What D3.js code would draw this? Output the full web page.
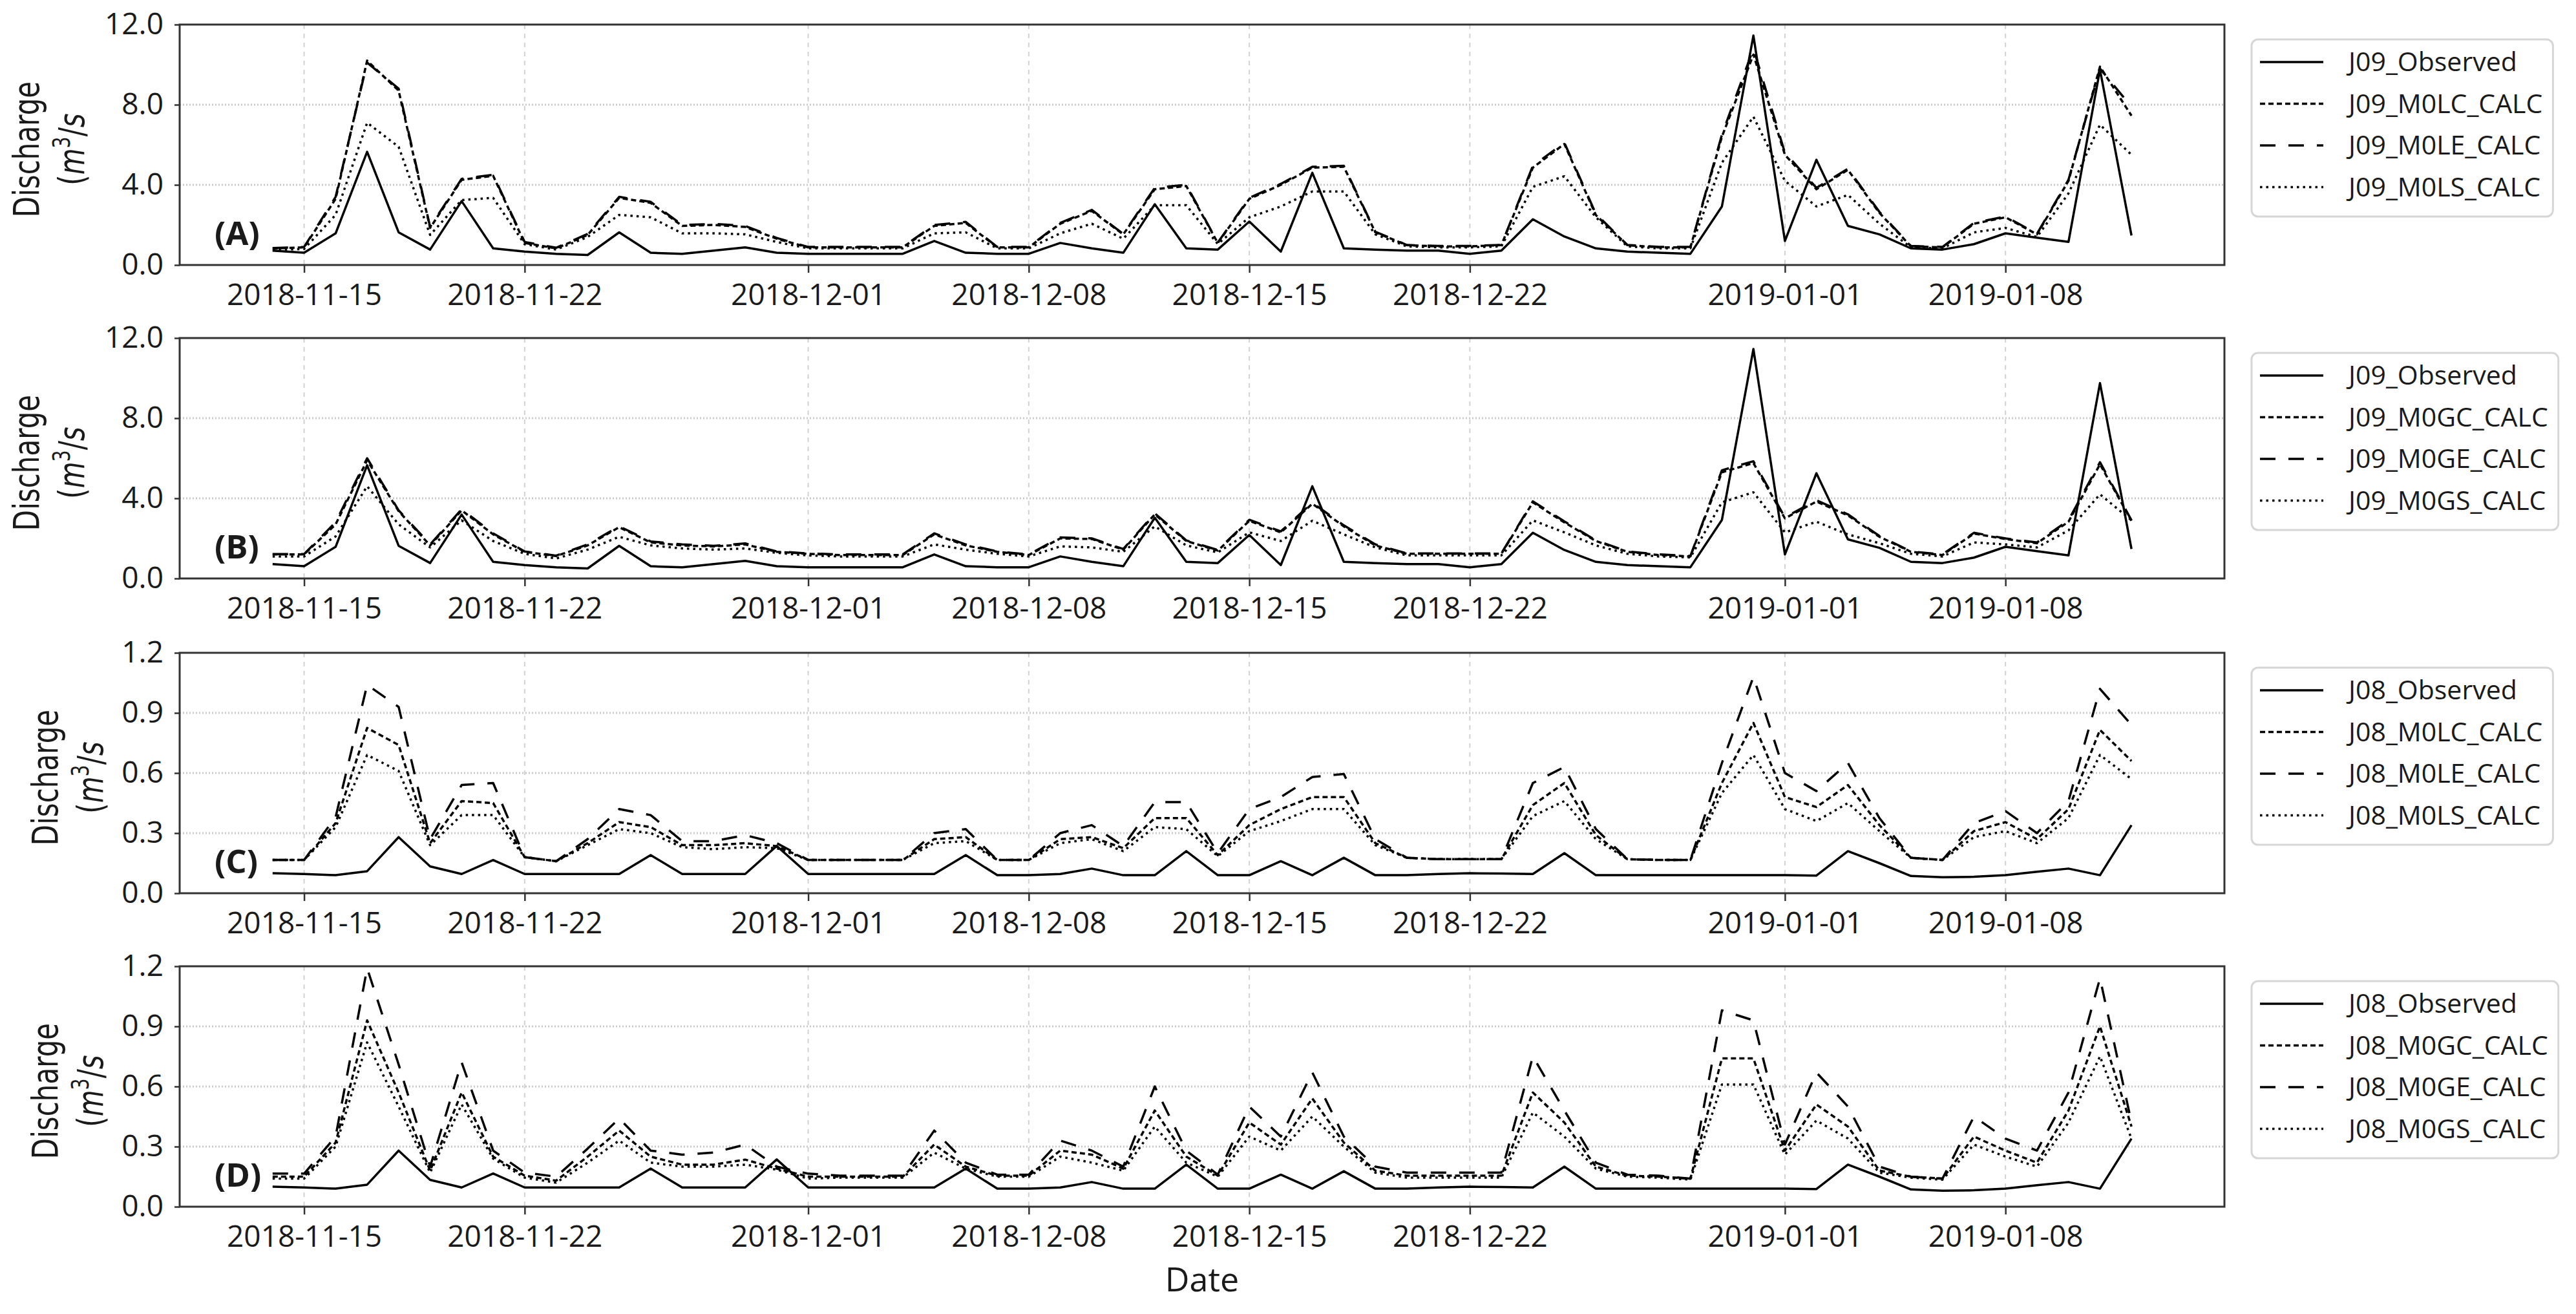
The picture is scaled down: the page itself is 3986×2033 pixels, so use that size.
<!DOCTYPE html>
<html>
<head>
<meta charset="utf-8">
<script src="https://cdn.jsdelivr.net/npm/d3@7/dist/d3.min.js"></script>
<style>
  body { margin: 0; background: #fff; }
</style>
</head>
<body>
<div id="chart"></div>
<script>
// ---- data ----
// one value per day, 2018-11-14 .. 2019-01-12
var startDate = "2018-11-14", endDate = "2019-01-12";
var tickDates = ["2018-11-15", "2018-11-22", "2018-12-01", "2018-12-08", "2018-12-15", "2018-12-22", "2019-01-01", "2019-01-08"];
var ticksJ09 = [0, 4, 8, 12];
var ticksJ08 = [0, 0.3, 0.6, 0.9, 1.2];

var J09_Observed = [0.72, 0.61, 1.58, 5.65, 1.63, 0.77, 3.19, 0.83, 0.67, 0.56, 0.5, 1.63, 0.61, 0.56, 0.72, 0.88, 0.61, 0.56, 0.56, 0.56,
  0.56, 1.2, 0.61, 0.56, 0.56, 1.1, 0.83, 0.61, 3.03, 0.83, 0.77, 2.17, 0.67, 4.6, 0.83, 0.77, 0.72, 0.72, 0.56, 0.72,
  2.28, 1.42, 0.83, 0.67, 0.61, 0.56, 2.92, 11.45, 1.2, 5.25, 1.95, 1.53, 0.83, 0.77, 1.04, 1.58, 1.36, 1.15, 9.75, 1.47];
var J09_M0LC = [0.82, 0.88, 3.3, 10.2, 8.7, 1.85, 4.25, 4.45, 1.1, 0.83, 1.5, 3.35, 3.1, 1.95, 2.0, 1.9, 1.31, 0.88, 0.88, 0.88,
  0.88, 1.95, 2.1, 0.88, 0.88, 2.06, 2.7, 1.53, 3.78, 3.94, 1.1, 3.3, 4.0, 4.86, 4.9, 1.63, 0.99, 0.93, 0.93, 0.99,
  4.86, 6.04, 2.49, 0.99, 0.88, 0.88, 6.4, 10.5, 5.5, 3.78, 4.75, 2.6, 0.93, 0.88, 2.06, 2.38, 1.53, 4.2, 9.9, 7.45];
var J09_M0LE = [0.85, 0.9, 3.4, 10.1, 8.8, 1.9, 4.3, 4.5, 1.15, 0.86, 1.55, 3.4, 3.15, 2.0, 2.05, 1.95, 1.35, 0.9, 0.9, 0.9,
  0.9, 2.0, 2.15, 0.9, 0.9, 2.1, 2.75, 1.55, 3.85, 4.0, 1.12, 3.35, 4.05, 4.9, 4.95, 1.66, 1.0, 0.95, 0.95, 1.0,
  4.95, 6.1, 2.55, 1.0, 0.9, 0.9, 6.5, 10.8, 5.6, 3.85, 4.8, 2.65, 0.95, 0.9, 2.1, 2.42, 1.56, 4.25, 9.8, 7.9];
var J09_M0LS = [0.75, 0.8, 2.5, 7.1, 5.9, 1.5, 3.24, 3.35, 1.04, 0.77, 1.4, 2.5, 2.38, 1.58, 1.58, 1.53, 1.15, 0.83, 0.83, 0.83,
  0.83, 1.58, 1.63, 0.83, 0.83, 1.58, 2.06, 1.31, 2.98, 2.98, 1.05, 2.38, 2.92, 3.67, 3.67, 1.53, 0.93, 0.88, 0.88, 0.93,
  3.9, 4.43, 2.38, 0.93, 0.83, 0.83, 5.1, 7.4, 4.2, 2.92, 3.5, 2.06, 0.88, 0.83, 1.63, 1.85, 1.4, 3.57, 7.0, 5.5];

var J09_M0GC = [1.2, 1.2, 2.7, 5.9, 3.36, 1.65, 3.4, 2.2, 1.33, 1.12, 1.65, 2.56, 1.8, 1.65, 1.6, 1.7, 1.33, 1.23, 1.17, 1.17,
  1.17, 2.2, 1.65, 1.33, 1.17, 2.0, 1.97, 1.44, 3.2, 1.87, 1.39, 2.88, 2.3, 3.73, 2.6, 1.65, 1.23, 1.23, 1.23, 1.23,
  3.8, 2.8, 1.87, 1.33, 1.17, 1.1, 5.3, 5.76, 3.0, 3.84, 3.15, 2.08, 1.33, 1.17, 2.24, 1.97, 1.76, 2.83, 5.7, 2.88];
var J09_M0GE = [1.22, 1.22, 2.8, 6.0, 3.4, 1.7, 3.45, 2.25, 1.35, 1.14, 1.7, 2.6, 1.85, 1.7, 1.63, 1.75, 1.35, 1.25, 1.2, 1.2,
  1.2, 2.25, 1.7, 1.35, 1.2, 2.05, 2.0, 1.47, 3.25, 1.9, 1.42, 2.93, 2.35, 3.78, 2.65, 1.7, 1.25, 1.25, 1.25, 1.25,
  3.85, 2.85, 1.9, 1.35, 1.2, 1.12, 5.4, 5.85, 3.05, 3.9, 3.2, 2.12, 1.35, 1.2, 2.28, 2.0, 1.8, 2.9, 5.8, 2.9];
var J09_M0GS = [1.1, 1.1, 2.1, 4.6, 2.7, 1.55, 2.9, 1.87, 1.23, 1.0, 1.44, 2.08, 1.65, 1.5, 1.44, 1.5, 1.28, 1.15, 1.1, 1.1,
  1.1, 1.7, 1.44, 1.23, 1.1, 1.6, 1.55, 1.33, 2.6, 1.65, 1.3, 2.3, 1.87, 2.88, 2.2, 1.55, 1.15, 1.15, 1.15, 1.15,
  2.9, 2.3, 1.65, 1.23, 1.1, 1.05, 3.8, 4.3, 2.3, 2.83, 2.2, 1.76, 1.23, 1.1, 1.8, 1.7, 1.55, 2.4, 4.2, 2.9];

var J08_Observed = [0.10, 0.096, 0.09, 0.11, 0.28, 0.134, 0.096, 0.166, 0.096, 0.096, 0.096, 0.096, 0.19, 0.096, 0.096, 0.096, 0.236, 0.096, 0.096, 0.096,
  0.096, 0.096, 0.19, 0.09, 0.09, 0.096, 0.123, 0.09, 0.09, 0.21, 0.09, 0.09, 0.16, 0.09, 0.177, 0.09, 0.09, 0.096, 0.10, 0.098,
  0.096, 0.2, 0.09, 0.09, 0.09, 0.09, 0.09, 0.09, 0.09, 0.088, 0.21, 0.15, 0.086, 0.08, 0.082, 0.09, 0.107, 0.123, 0.09, 0.34];
var J08_M0LC = [0.166, 0.166, 0.35, 0.825, 0.74, 0.25, 0.46, 0.45, 0.18, 0.16, 0.25, 0.355, 0.33, 0.24, 0.24, 0.25, 0.235, 0.166, 0.166, 0.166,
  0.166, 0.27, 0.28, 0.166, 0.166, 0.27, 0.28, 0.225, 0.375, 0.375, 0.19, 0.34, 0.42, 0.48, 0.48, 0.25, 0.177, 0.17, 0.17, 0.17,
  0.44, 0.55, 0.29, 0.17, 0.166, 0.166, 0.55, 0.85, 0.48, 0.43, 0.54, 0.34, 0.177, 0.166, 0.31, 0.355, 0.27, 0.42, 0.815, 0.66];
var J08_M0LE = [0.166, 0.166, 0.38, 1.04, 0.93, 0.27, 0.54, 0.55, 0.18, 0.16, 0.27, 0.42, 0.39, 0.26, 0.26, 0.29, 0.25, 0.166, 0.166, 0.166,
  0.166, 0.30, 0.32, 0.166, 0.166, 0.30, 0.34, 0.235, 0.455, 0.455, 0.2, 0.42, 0.48, 0.58, 0.595, 0.27, 0.177, 0.17, 0.17, 0.17,
  0.55, 0.63, 0.32, 0.17, 0.166, 0.166, 0.65, 1.08, 0.6, 0.51, 0.65, 0.375, 0.177, 0.166, 0.35, 0.41, 0.3, 0.46, 1.02, 0.84];
var J08_M0LS = [0.166, 0.166, 0.33, 0.69, 0.61, 0.24, 0.39, 0.39, 0.18, 0.16, 0.24, 0.32, 0.3, 0.23, 0.22, 0.23, 0.225, 0.166, 0.166, 0.166,
  0.166, 0.25, 0.26, 0.166, 0.166, 0.25, 0.27, 0.21, 0.33, 0.32, 0.185, 0.31, 0.36, 0.42, 0.42, 0.24, 0.177, 0.17, 0.17, 0.17,
  0.385, 0.46, 0.27, 0.17, 0.166, 0.166, 0.5, 0.69, 0.42, 0.36, 0.45, 0.31, 0.177, 0.166, 0.28, 0.31, 0.25, 0.375, 0.69, 0.57];

var J08_M0GC = [0.15, 0.15, 0.32, 0.93, 0.57, 0.18, 0.57, 0.25, 0.155, 0.13, 0.25, 0.38, 0.25, 0.21, 0.21, 0.235, 0.19, 0.15, 0.15, 0.15,
  0.15, 0.31, 0.2, 0.155, 0.155, 0.28, 0.26, 0.19, 0.48, 0.25, 0.155, 0.42, 0.31, 0.54, 0.32, 0.18, 0.155, 0.155, 0.155, 0.155,
  0.57, 0.42, 0.2, 0.155, 0.15, 0.14, 0.74, 0.74, 0.28, 0.51, 0.4, 0.18, 0.15, 0.14, 0.35, 0.28, 0.22, 0.48, 0.9, 0.4];
var J08_M0GE = [0.165, 0.165, 0.35, 1.19, 0.71, 0.2, 0.72, 0.28, 0.17, 0.15, 0.29, 0.44, 0.28, 0.26, 0.27, 0.31, 0.2, 0.165, 0.155, 0.155,
  0.155, 0.38, 0.22, 0.16, 0.16, 0.33, 0.28, 0.2, 0.6, 0.28, 0.16, 0.5, 0.35, 0.67, 0.35, 0.2, 0.17, 0.17, 0.17, 0.17,
  0.75, 0.48, 0.22, 0.16, 0.155, 0.14, 0.98, 0.93, 0.31, 0.67, 0.5, 0.2, 0.15, 0.14, 0.45, 0.34, 0.28, 0.57, 1.14, 0.42];
var J08_M0GS = [0.14, 0.14, 0.3, 0.82, 0.5, 0.17, 0.51, 0.24, 0.145, 0.12, 0.22, 0.33, 0.22, 0.2, 0.2, 0.21, 0.185, 0.14, 0.145, 0.145,
  0.145, 0.27, 0.19, 0.15, 0.15, 0.25, 0.22, 0.18, 0.4, 0.22, 0.15, 0.35, 0.28, 0.45, 0.3, 0.17, 0.145, 0.145, 0.145, 0.145,
  0.47, 0.35, 0.19, 0.15, 0.145, 0.135, 0.61, 0.61, 0.26, 0.43, 0.34, 0.17, 0.145, 0.135, 0.31, 0.25, 0.2, 0.42, 0.75, 0.34];

// ---- panels (built from the arrays above) ----
var panels = [
  {tag: "(A)", ymax: 12, ticks: ticksJ09,
   names: ["J09_Observed", "J09_M0LC_CALC", "J09_M0LE_CALC", "J09_M0LS_CALC"],
   series: [J09_Observed, J09_M0LC, J09_M0LE, J09_M0LS]},
  {tag: "(B)", ymax: 12, ticks: ticksJ09,
   names: ["J09_Observed", "J09_M0GC_CALC", "J09_M0GE_CALC", "J09_M0GS_CALC"],
   series: [J09_Observed, J09_M0GC, J09_M0GE, J09_M0GS]},
  {tag: "(C)", ymax: 1.2, ticks: ticksJ08,
   names: ["J08_Observed", "J08_M0LC_CALC", "J08_M0LE_CALC", "J08_M0LS_CALC"],
   series: [J08_Observed, J08_M0LC, J08_M0LE, J08_M0LS]},
  {tag: "(D)", ymax: 1.2, ticks: ticksJ08,
   names: ["J08_Observed", "J08_M0GC_CALC", "J08_M0GE_CALC", "J08_M0GS_CALC"],
   series: [J08_Observed, J08_M0GC, J08_M0GE, J08_M0GS]}
];

// solid, short dash, long dash, dotted
var dashes = [null, "8,5", "24,20", "3.5,6"];

// ---- layout ----
var W = 3986, H = 2033;
var left = 278, right = 3442;
var tops = [38, 523, 1010, 1495];
var ph = 372;
var tickFont = "'Open Sans', 'Noto Sans', sans-serif";
var ink = "#1a1a1a";

var parse = d3.utcParse("%Y-%m-%d");
var dates = d3.utcDay.range(parse(startDate), d3.utcDay.offset(parse(endDate), 1));

// matplotlib style 5% margin on the x range
var t0 = dates[0].getTime(), t1 = dates[dates.length - 1].getTime();
var pad = (t1 - t0) * 0.05;
var x = d3.scaleUtc()
  .domain([new Date(t0 - pad), new Date(t1 + pad)])
  .range([left, right]);

var svg = d3.select("#chart").append("svg")
  .attr("width", W).attr("height", H)
  .style("font-family", tickFont);

svg.append("defs").selectAll("clipPath")
  .data(tops).enter()
  .append("clipPath").attr("id", function (d, i) { return "clip" + i; })
  .append("rect")
    .attr("x", left).attr("y", function (d) { return d; })
    .attr("width", right - left).attr("height", ph);

panels.forEach(function (p, pi) {
  var top = tops[pi], bottom = top + ph;
  var y = d3.scaleLinear().domain([0, p.ymax]).range([bottom, top]);
  var g = svg.append("g");

  // grid: dotted horizontal, dashed vertical
  g.selectAll(".hgrid")
    .data(p.ticks.filter(function (t) { return t > 0 && t < p.ymax; }))
    .enter().append("line")
      .attr("x1", left).attr("x2", right)
      .attr("y1", function (d) { return y(d); })
      .attr("y2", function (d) { return y(d); })
      .attr("stroke", "#c9c9c9").attr("stroke-width", 3)
      .attr("stroke-dasharray", "2,3");

  g.selectAll(".vgrid")
    .data(tickDates.map(parse))
    .enter().append("line")
      .attr("x1", function (d) { return x(d); })
      .attr("x2", function (d) { return x(d); })
      .attr("y1", top).attr("y2", bottom)
      .attr("stroke", "#d2d2d2").attr("stroke-width", 2)
      .attr("stroke-dasharray", "7,7");

  // series
  var line = d3.line()
    .x(function (d, i) { return x(dates[i]); })
    .y(function (d) { return y(d); });

  p.series.forEach(function (s, si) {
    g.append("path")
      .datum(s)
      .attr("clip-path", "url(#clip" + pi + ")")
      .attr("fill", "none")
      .attr("stroke", "#000")
      .attr("stroke-width", 3.5)
      .attr("stroke-linejoin", "round")
      .attr("stroke-dasharray", dashes[si])
      .attr("d", line);
  });

  // frame
  g.append("rect")
    .attr("x", left).attr("y", top)
    .attr("width", right - left).attr("height", ph)
    .attr("fill", "none").attr("stroke", "#333").attr("stroke-width", 3);

  // axes
  var xa = g.append("g")
    .attr("transform", "translate(0," + bottom + ")")
    .call(d3.axisBottom(x)
      .tickValues(tickDates.map(parse))
      .tickFormat(d3.utcFormat("%Y-%m-%d"))
      .tickSize(12).tickPadding(17));
  var ya = g.append("g")
    .attr("transform", "translate(" + left + ",0)")
    .call(d3.axisLeft(y)
      .tickValues(p.ticks)
      .tickFormat(d3.format(".1f"))
      .tickSize(8).tickPadding(17));
  [xa, ya].forEach(function (a) {
    a.select(".domain").remove();
    a.selectAll(".tick line").attr("stroke", "#333").attr("stroke-width", 2.5);
    a.selectAll(".tick text")
      .attr("fill", ink)
      .style("font-family", tickFont)
      .style("font-size", "46px");
  });

  // panel tag
  g.append("text")
    .attr("x", 332).attr("y", bottom - 31)
    .attr("fill", ink)
    .style("font-size", "51px").style("font-weight", "bold")
    .text(p.tag);

  // y label, two lines; sits further right when the tick labels are short
  var shift = p.ymax > 10 ? 0 : 29;
  var cy = top + ph / 2 + 7;
  g.append("text")
    .attr("transform", "translate(" + (60 + shift) + "," + cy + ") rotate(-90) scale(0.75,1)")
    .attr("text-anchor", "middle").attr("fill", ink)
    .style("font-family", "'DejaVu Sans', sans-serif").style("font-size", "56px")
    .text("Discharge");
  var yl2 = g.append("text")
    .attr("transform", "translate(" + (130 + shift) + "," + cy + ") rotate(-90) scale(0.75,1)")
    .attr("text-anchor", "middle").attr("fill", ink)
    .style("font-family", "'DejaVu Sans', sans-serif").style("font-size", "56px");
  yl2.append("tspan").text("(");
  yl2.append("tspan").style("font-style", "italic").text("m");
  yl2.append("tspan").attr("dy", -22).style("font-size", "38px").text("3");
  yl2.append("tspan").attr("dy", 22).text("/");
  yl2.append("tspan").style("font-style", "italic").text("s");

  // legend
  var lx = 3484, ly = top + 23, lh = 274;
  var box = g.append("rect")
    .attr("x", lx).attr("y", ly).attr("height", lh)
    .attr("rx", 10).attr("ry", 10)
    .attr("fill", "#fff").attr("fill-opacity", 0.8)
    .attr("stroke", "#d6d6d6").attr("stroke-width", 3);
  var maxLen = 0;
  p.names.forEach(function (n, k) {
    var ey = ly + 35 + k * 64.5;
    g.append("line")
      .attr("x1", lx + 13).attr("x2", lx + 111)
      .attr("y1", ey).attr("y2", ey)
      .attr("stroke", "#000").attr("stroke-width", 3.5)
      .attr("stroke-dasharray", dashes[k]);
    var t = g.append("text")
      .attr("x", lx + 150).attr("y", ey).attr("dy", "0.35em")
      .attr("fill", ink)
      .style("font-size", "41px")
      .text(n);
    maxLen = Math.max(maxLen, t.node().getComputedTextLength());
  });
  box.attr("width", 150 + maxLen + 16);
});

// shared x label
svg.append("text")
  .attr("x", (left + right) / 2).attr("y", 1998)
  .attr("text-anchor", "middle").attr("fill", ink)
  .style("font-size", "52px")
  .text("Date");
</script>
</body>
</html>
